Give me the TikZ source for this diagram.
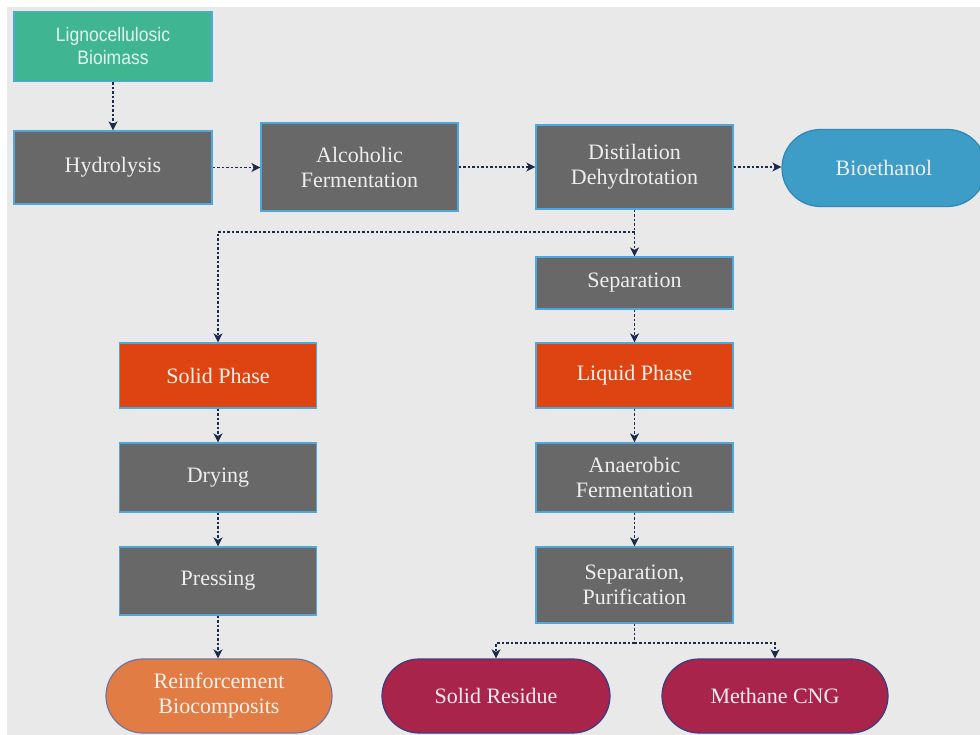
\documentclass[tikz,border=0pt]{standalone}
\usepackage{fontspec}
\setmainfont{Liberation Serif}
\newfontfamily\lignofont[FakeStretch=0.9]{Liberation Sans}
\usetikzlibrary{arrows.meta}
\definecolor{bg}{HTML}{E9E9E9}
\definecolor{boxgray}{HTML}{686868}
\definecolor{boxborder}{HTML}{4FA8DC}
\definecolor{teal}{HTML}{40B592}
\definecolor{redor}{HTML}{DE4412}
\definecolor{bioblue}{HTML}{3E9DC6}
\definecolor{bioborder}{HTML}{2F86B8}
\definecolor{orng}{HTML}{E07C44}
\definecolor{orngborder}{HTML}{74749A}
\definecolor{crimson}{HTML}{A8244A}
\definecolor{crimborder}{HTML}{3C3C80}
\definecolor{txt}{HTML}{EEEEEE}
\definecolor{navy}{HTML}{1C2B4A}
\tikzset{
  base/.style={draw=boxborder, line width=1.2pt, text=txt, align=center, inner sep=0pt,
    font=\fontsize{22}{25}\selectfont},
  graybox/.style={base, fill=boxgray},
  tealbox/.style={base, fill=teal, text=teal!15!white, font=\lignofont\fontsize{19.5}{23}\selectfont},
  redbox/.style={base, fill=redor, text=redor!8!white},
  pill/.style={base, rounded corners=37pt, minimum width=226pt, minimum height=74pt},
  biopill/.style={pill, fill=bioblue, draw=bioborder, rounded corners=38.5pt, minimum width=204pt, minimum height=77pt},
  orpill/.style={pill, fill=orng, draw=orngborder, text=orng!10!white},
  crpill/.style={pill, fill=crimson, draw=crimborder, text=crimson!8!white},
  conn/.style={draw=navy, line width=1.5pt, dash pattern=on 2.5pt off 2pt},
  arr/.style={conn, -{Stealth[length=9pt,width=9pt,inset=2.5pt]}},
}
\begin{document}
\begin{tikzpicture}[x=1pt,y=-1pt]
\clip (0,0) rectangle (980,735);
\fill[white] (0,0) rectangle (980,735);
\fill[bg] (7,7) rectangle (980,735);

\node[tealbox, minimum width=198pt, minimum height=70pt] (ligno) at (113,46.5) {Lignocellulosic\\Bioimass};
\node[graybox, minimum width=198pt, minimum height=73pt] (hyd) at (113,167.5) {Hydrolysis};
\node[graybox, minimum width=197pt, minimum height=88pt] (alc) at (359.5,167) {Alcoholic\\Fermentation};
\node[graybox, minimum width=197pt, minimum height=84pt] (dist) at (634.5,167) {Distilation\\Dehydrotation};
\node[biopill] (bio) at (884,168) {Bioethanol};
\node[graybox, minimum width=197pt, minimum height=52pt] (sep) at (634.5,283) {Separation};
\node[redbox, minimum width=197pt, minimum height=65pt] (liq) at (634.5,375.5) {Liquid Phase};
\node[graybox, minimum width=197pt, minimum height=69pt] (anaer) at (634.5,477.5) {Anaerobic\\Fermentation};
\node[graybox, minimum width=197pt, minimum height=76pt] (seppur) at (634.5,585) {Separation,\\Purification};
\node[redbox, minimum width=197pt, minimum height=65pt] (solid) at (218,375.5) {Solid Phase};
\node[graybox, minimum width=197pt, minimum height=69pt] (dry) at (218,477.5) {Drying};
\node[graybox, minimum width=197pt, minimum height=68pt] (press) at (218,581) {Pressing};
\node[orpill] (reinf) at (219,696) {Reinforcement\\Biocomposits};
\node[crpill, minimum width=228pt] (solres) at (496,696) {Solid Residue};
\node[crpill] (meth) at (775,696) {Methane CNG};

\coordinate (br) at (634.5,232);
\coordinate (sp) at (634.5,643);

\draw[arr] (ligno) -- (hyd);
\draw[arr] (hyd.east) -- (alc.west |- hyd.east);
\draw[arr] (alc.east) -- (dist.west |- alc.east);
\draw[arr] (dist.east) -- (bio.west |- dist.east);
\draw[arr] (dist) -- (sep);
\draw[arr] (br) -| (solid.north);
\draw[arr] (sep) -- (liq);
\draw[arr] (liq) -- (anaer);
\draw[arr] (anaer) -- (seppur);
\draw[arr] (solid) -- (dry);
\draw[arr] (dry) -- (press);
\draw[arr] (press.south) -- (press.south |- reinf.north);
\draw[conn] (seppur.south) -- (sp);
\draw[arr] (sp) -| (solres.north);
\draw[arr] (sp) -| (meth.north);
\end{tikzpicture}
\end{document}
